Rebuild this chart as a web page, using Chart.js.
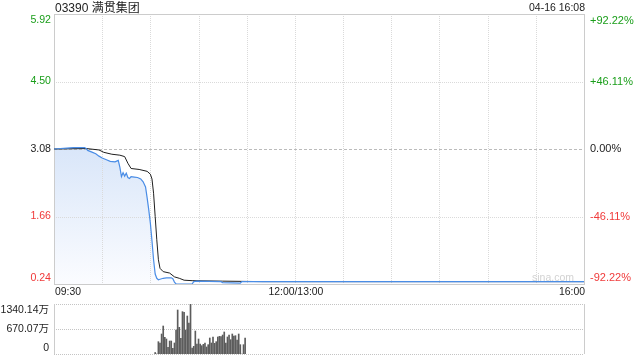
<!DOCTYPE html>
<html><head><meta charset="utf-8">
<script src="https://cdn.jsdelivr.net/npm/chart.js@4.4.1/dist/chart.umd.min.js"></script>
<style>
html,body{margin:0;padding:0;background:#fff;}
#wrap{position:relative;width:640px;height:360px;overflow:hidden;}
canvas{position:absolute;left:0;top:0;}
</style></head><body>
<div id="wrap"><canvas id="price" width="640" height="360"></canvas><canvas id="vol" width="640" height="360"></canvas></div>
<script>
const titleText = '03390 满贯集团';
const stampText = '04-16 16:08';
const prevClose = 3.08;
const priceTicks = [5.92, 4.50, 3.08, 1.66, 0.24];
const pctTicks = ['+92.22%', '+46.11%', '0.00%', '-46.11%', '-92.22%'];
const timeLabels = ['09:30', '12:00/13:00', '16:00'];
const timeLabelMin = [0, 150, 330];
const gridMin = [30, 60, 90, 120, 150, 180, 210, 240, 270, 300];

// minutes since 09:30 (trading minutes, lunch removed) and price
const priceMin = [0, 4, 8, 12, 19, 20, 21, 24, 26, 28, 30, 33, 35, 38, 40, 41, 42, 43, 44, 45, 46, 47, 48, 50, 52, 54, 55.5, 57, 58, 59, 60, 61, 62, 63, 64, 65, 66, 68, 70, 73, 74, 75, 76, 86, 87, 89, 104, 105, 116, 117, 330];
const priceVal = [3.08, 3.09, 3.10, 3.11, 3.11, 3.09, 3.05, 3.01, 2.98, 2.93, 2.89, 2.85, 2.82, 2.81, 2.84, 2.70, 2.50, 2.58, 2.51, 2.57, 2.48, 2.46, 2.50, 2.49, 2.48, 2.45, 2.39, 2.28, 2.05, 1.80, 1.52, 1.15, 0.75, 0.45, 0.36, 0.33, 0.34, 0.36, 0.37, 0.37, 0.35, 0.28, 0.24, 0.24, 0.29, 0.30, 0.29, 0.27, 0.26, 0.29, 0.29];

const avgMin = [0, 20, 28, 31, 36, 41, 44, 46, 48, 53, 58, 60, 61, 62, 63, 64, 65, 66, 68, 72, 75, 78, 81, 86, 105, 130, 330];
const avgVal = [3.08, 3.09, 3.06, 3.01, 2.97, 2.95, 2.92, 2.78, 2.67, 2.65, 2.61, 2.55, 2.45, 2.15, 1.66, 1.17, 0.75, 0.57, 0.50, 0.47, 0.39, 0.36, 0.32, 0.31, 0.30, 0.29, 0.29];

// volume (万股) per minute starting at minute volStart
const volStart = 63;
const volVal = [40, 0, 330, 295, 536, 750, 447, 402, 179, 348, 348, 152, 295, 643, 1179, 715, 420, 1135, 1117, 643, 1018, 831, 1340, 161, 205, 616, 268, 402, 268, 223, 259, 295, 188, 250, 429, 295, 456, 286, 330, 456, 473, 465, 509, 590, 295, 456, 509, 384, 536, 482, 491, 375, 536, 250, 0, 250, 429];
const volTicks = [1340.14, 670.07, 0];
const volTickLabels = ['1340.14万', '670.07万', '0'];

const FONT = "'Liberation Sans', Arial, 'Noto Sans CJK SC', sans-serif";
const GREEN = '#1a9e1a', RED = '#f03a3a', BLACK = '#222222';

function seg(ctx, x1, y1, x2, y2) { ctx.beginPath(); ctx.moveTo(x1, y1); ctx.lineTo(x2, y2); ctx.stroke(); }
function colorFor(v) { return v > prevClose ? GREEN : (v < prevClose ? RED : BLACK); }
function labelY(i, n, py) { return i === 0 ? py + 6.5 : (i === n - 1 ? py - 6 : py); }

const pricePlugin = {
  id: 'priceDeco',
  beforeDatasetsDraw(chart) {
    const { ctx, chartArea: a, scales: { x, y } } = chart;
    ctx.save();
    ctx.lineWidth = 1;
    ctx.strokeStyle = '#dadada';
    ctx.setLineDash([1, 1]);
    gridMin.forEach(m => { const px = Math.round(x.getPixelForValue(m)) + 0.5; seg(ctx, px, a.top, px, a.bottom); });
    [4.50, 1.66].forEach(v => { const py = Math.round(y.getPixelForValue(v)) + 0.5; seg(ctx, a.left, py, a.right, py); });
    ctx.setLineDash([3, 2]);
    ctx.strokeStyle = '#bbbbbb';
    const pc = Math.round(y.getPixelForValue(prevClose)) + 0.5;
    seg(ctx, a.left, pc, a.right, pc);
    ctx.setLineDash([]);
    ctx.strokeStyle = '#cccccc';
    ctx.strokeRect(a.left + 0.5, a.top + 0.5, a.right - a.left, a.bottom - a.top);
    ctx.fillStyle = '#d2d2d2';
    ctx.font = '10.5px ' + FONT;
    ctx.textAlign = 'right';
    ctx.textBaseline = 'middle';
    ctx.fillText('sina.com', a.right - 10, a.bottom - 6);
    ctx.restore();
  },
  afterDraw(chart) {
    const { ctx, chartArea: a, scales: { x, y } } = chart;
    ctx.save();
    ctx.textBaseline = 'middle';
    ctx.font = '12px ' + FONT;
    ctx.fillStyle = BLACK;
    ctx.textAlign = 'left';
    ctx.fillText(titleText, a.left + 1, 8.5);
    ctx.font = '10.5px ' + FONT;
    ctx.textAlign = 'right';
    ctx.fillText(stampText, a.right + 1, 8.5);
    ctx.font = '10.6px ' + FONT;
    priceTicks.forEach((v, i) => {
      const py = labelY(i, priceTicks.length, y.getPixelForValue(v));
      ctx.fillStyle = colorFor(v);
      ctx.textAlign = 'right';
      ctx.fillText(v.toFixed(2), a.left - 3, py);
      ctx.textAlign = 'left';
      ctx.font = '11px ' + FONT;
      ctx.fillText(pctTicks[i], a.right + 6, py);
      ctx.font = '10.6px ' + FONT;
    });
    ctx.fillStyle = BLACK;
    ctx.font = '10.4px ' + FONT;
    timeLabels.forEach((t, i) => {
      const px = x.getPixelForValue(timeLabelMin[i]);
      ctx.textAlign = i === 0 ? 'left' : (i === timeLabels.length - 1 ? 'right' : 'center');
      ctx.fillText(t, px + 1, a.bottom + 8.5);
    });
    ctx.restore();
  }
};

const volPlugin = {
  id: 'volDeco',
  beforeDatasetsDraw(chart) {
    const { ctx, chartArea: a, scales: { y } } = chart;
    ctx.save();
    ctx.lineWidth = 1;
    ctx.strokeStyle = '#c4c4c4';
    ctx.setLineDash([1, 1]);
    volTicks.forEach(v => { const py = Math.round(y.getPixelForValue(v)) + 0.5; seg(ctx, a.left, py, a.right, py); });
    ctx.setLineDash([]);
    ctx.strokeStyle = '#cccccc';
    seg(ctx, a.left + 0.5, a.top, a.left + 0.5, a.bottom);
    seg(ctx, a.right + 0.5, a.top, a.right + 0.5, a.bottom);
    ctx.restore();
  },
  afterDraw(chart) {
    const { ctx, chartArea: a, scales: { y } } = chart;
    ctx.save();
    ctx.textBaseline = 'middle';
    ctx.textAlign = 'right';
    ctx.fillStyle = BLACK;
    ctx.font = '10.5px ' + FONT;
    volTicks.forEach((v, i) => {
      const py = labelY(i, volTicks.length, y.getPixelForValue(v));
      ctx.fillText(volTickLabels[i], a.left - 5, py);
    });
    ctx.restore();
  }
};

const common = { responsive: false, animation: false, events: [], devicePixelRatio: 1 };

new Chart(document.getElementById('price'), {
  type: 'line',
  data: {
    datasets: [
      {
        data: priceMin.map((m, i) => ({ x: m, y: priceVal[i] })),
        borderColor: '#4a8de6', borderWidth: 1.2, pointRadius: 0, tension: 0,
        fill: 'start', order: 0,
        backgroundColor: (c) => {
          const ch = c.chart, a = ch.chartArea;
          if (!a) return 'rgba(220,232,250,0.8)';
          const g = ch.ctx.createLinearGradient(0, ch.scales.y.getPixelForValue(3.11), 0, a.bottom);
          g.addColorStop(0, '#d9e6f9');
          g.addColorStop(1, '#fbfcff');
          return g;
        }
      },
      {
        data: avgMin.map((m, i) => ({ x: m, y: avgVal[i] })),
        borderColor: '#1e1e1e', borderWidth: 1, pointRadius: 0, tension: 0, fill: false, order: 1
      }
    ]
  },
  options: Object.assign({}, common, {
    layout: { padding: { left: 54, right: 56, top: 14, bottom: 76 } },
    plugins: { legend: { display: false }, tooltip: { enabled: false }, filler: { drawTime: 'beforeDatasetsDraw' } },
    scales: {
      x: { type: 'linear', min: 0, max: 330, display: false },
      y: { type: 'linear', min: 0.24, max: 5.92, display: false }
    }
  }),
  plugins: [pricePlugin]
});

new Chart(document.getElementById('vol'), {
  type: 'bar',
  data: {
    datasets: [{
      data: volVal.map((v, i) => ({ x: volStart + i, y: v })),
      backgroundColor: '#5c5c5c', borderWidth: 0, barThickness: 1
    }]
  },
  options: Object.assign({}, common, {
    layout: { padding: { left: 54, right: 56, top: 304, bottom: 6 } },
    plugins: { legend: { display: false }, tooltip: { enabled: false } },
    scales: {
      x: { type: 'linear', min: 0, max: 330, display: false, offset: false },
      y: { type: 'linear', min: 0, max: 1340.14, display: false }
    }
  }),
  plugins: [volPlugin]
});
</script>
</body></html>
